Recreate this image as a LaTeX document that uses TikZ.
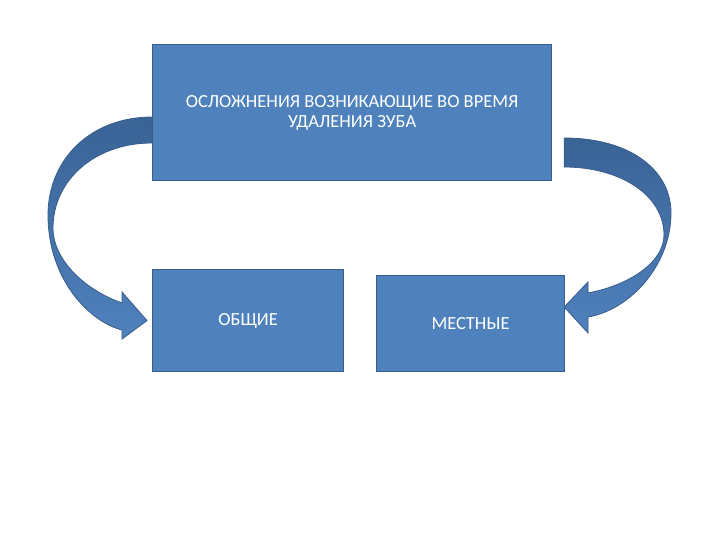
\documentclass[tikz,border=0pt]{standalone}
\usepackage{fontspec}
\setmainfont{Carlito}
\usetikzlibrary{positioning,calc}

\definecolor{boxblue}{HTML}{4F81BD}
\definecolor{boxedge}{HTML}{385D8A}
\definecolor{arrowdark}{HTML}{3A6396}
\definecolor{arrowlight}{HTML}{4F81BD}

\begin{document}
\begin{tikzpicture}[x=1pt, y=-1pt]
\tikzset{
  block/.style={rectangle, fill=boxblue, draw=boxedge, line width=1.2pt, text=white,
    align=center, font=\fontsize{18.5}{20}\selectfont, inner sep=2pt, anchor=north west},
  curvearrow/.style={draw=boxedge, line width=0.8pt, top color=arrowdark, bottom color=arrowlight}
}
\useasboundingbox[fill=white] (0,0) rectangle (720,540);

\node[block, minimum width=399pt, minimum height=136pt] (top) at (152,44)
  {ОСЛОЖНЕНИЯ ВОЗНИКАЮЩИЕ ВО ВРЕМЯ\\УДАЛЕНИЯ ЗУБА};
\node[block, minimum width=191pt, minimum height=102pt] (common) at (152,269) {ОБЩИЕ};
\node[block, minimum width=188pt, minimum height=96pt] (local) at (376,275) {МЕСТНЫЕ};

% curved arrow to the left box
\path[curvearrow] ($(top.north west)+(0,73)$) .. controls (90,117) and (48,160) .. (48,215)
  .. controls (48,280) and (90,322) .. (122,330) -- (122,339)
  -- ($(common.west)+(-5,0)$) -- (122,292) -- (122,303)
  .. controls (85,290) and (53,260) .. (53,228)
  .. controls (53,180) and (95,143) .. ($(top.north west)+(0,99)$) -- cycle;

% curved arrow to the right box
\path[curvearrow] ($(top.north east)+(12,94)$) .. controls (630,138) and (671,170) .. (671,213)
  .. controls (671,265) and (630,310) .. (588,317) -- (588,333)
  -- ($(local.north east)+(-1,32)$) -- (588,282) -- (588,293)
  .. controls (630,285) and (664,262) .. (664,235)
  .. controls (664,195) and (620,167) .. ($(top.north east)+(12,123)$) -- cycle;
\end{tikzpicture}
\end{document}
